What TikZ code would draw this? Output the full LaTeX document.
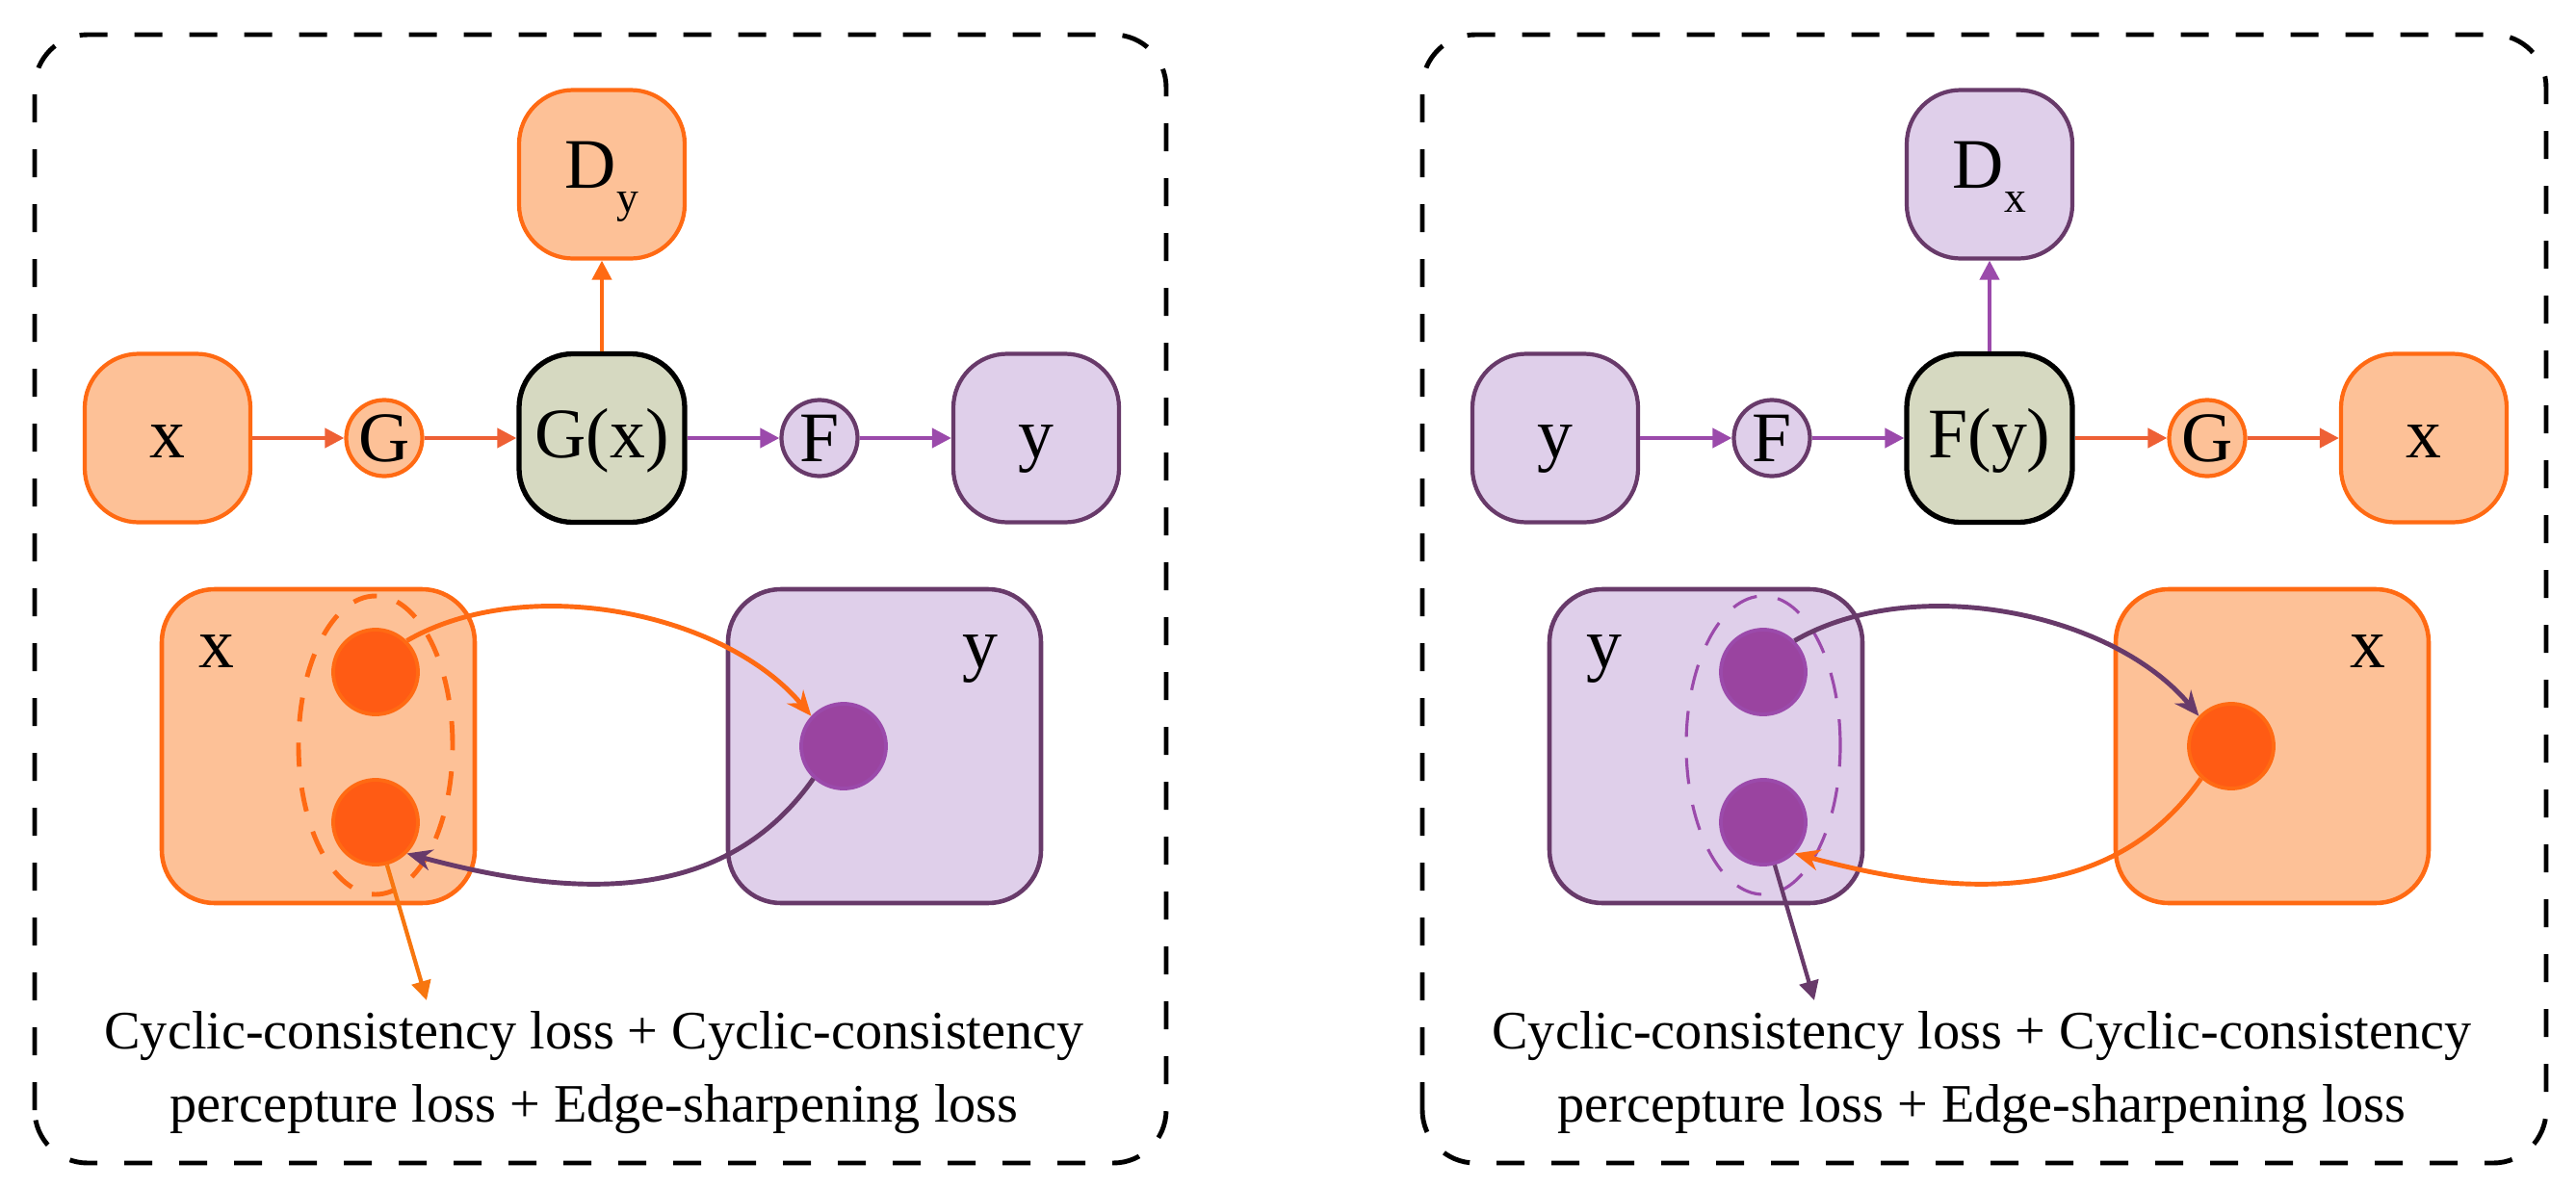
\documentclass[tikz,border=0pt]{standalone}
\usepackage{fontspec}
\setmainfont{Liberation Serif}
\usetikzlibrary{arrows.meta}
\definecolor{peach}{HTML}{FDC197}
\definecolor{orng}{HTML}{FF6A13}
\definecolor{dotorng}{HTML}{FF5B14}
\definecolor{arrorng}{HTML}{EE6035}
\definecolor{lossorng}{HTML}{F7760F}
\definecolor{lilac}{HTML}{DFCFEA}
\definecolor{plum}{HTML}{683A6A}
\definecolor{dotpurp}{HTML}{9A44A0}
\definecolor{arrpurp}{HTML}{9B4AAB}
\definecolor{sage}{HTML}{D6D9C1}
\newcommand{\boxfont}{\fontsize{21}{21}\selectfont}
\newcommand{\subfont}{\fontsize{13}{13}\selectfont}
\newcommand{\lossfont}{\fontsize{16}{21.6}\selectfont}

\begin{document}
\begin{tikzpicture}[
  box/.style={draw,rounded corners=0.56cm,minimum width=1.72cm,minimum height=1.75cm,line width=1.2pt,font=\boxfont,text height=0.55cm,text depth=0.15cm},
  op/.style={draw,circle,minimum size=0.79cm,inner sep=0pt,line width=1.2pt,font=\boxfont},
  region/.style={draw,rounded corners=0.55cm,minimum width=3.25cm,minimum height=3.26cm,line width=1.3pt},
  dot/.style={draw,circle,minimum size=0.88cm,inner sep=0pt,line width=1.1pt},
  flow/.style={line width=1.15pt,-{Triangle[length=0.2cm,width=0.2cm]}},
  cyc/.style={line width=1.4pt,-{Stealth[length=0.26cm,width=0.22cm]}},
  lossarr/.style={line width=1.2pt,-{Triangle[length=0.2cm,width=0.2cm]}},
  panel/.style={line width=1.4pt,dash pattern=on 0.29cm off 0.28cm,rounded corners=0.55cm},
  lbl/.style={anchor=base,font=\boxfont},
  loss/.style={align=center,inner sep=0pt,font=\lossfont}
]
\useasboundingbox (0,0) rectangle (26.75,12.34);

% dashed frames
\draw[panel] (0.36,0.26) rectangle (12.11,11.98);
\draw[panel] (14.77,0.26) rectangle (26.44,11.98);

% left: x -> G -> G(x) -> F -> y
\node[box,fill=peach,draw=orng,text depth=0.27cm] (dy) at (6.25,10.53) {D\raisebox{-0.25cm}{\subfont y}};
\node[box,fill=peach,draw=orng] (xin) at (1.74,7.79) {x};
\node[op,fill=peach,draw=orng] (g) at (3.99,7.79) {G};
\node[box,fill=sage,draw=black,line width=1.5pt] (gx) at (6.25,7.79) {G(x)};
\node[op,fill=lilac,draw=plum] (f) at (8.51,7.79) {F};
\node[box,fill=lilac,draw=plum] (yout) at (10.76,7.79) {y};
\draw[flow,arrorng] (xin) -- (g);
\draw[flow,arrorng] (g) -- (gx);
\draw[flow,arrpurp] (gx) -- (f);
\draw[flow,arrpurp] (f) -- (yout);
\draw[flow,orng] (gx) -- (dy);

\node[region,fill=peach,draw=orng] (xset) at (3.305,4.59) {};
\node[region,fill=lilac,draw=plum] (yset) at (9.185,4.59) {};
\node[lbl] (xlbl) at (2.25,5.41) {x};
\node[lbl] (ylbl) at (10.18,5.41) {y};
\draw[orng,line width=1.4pt,dash pattern=on 0.25cm off 0.22cm] (3.90,4.60) ellipse [x radius=0.80,y radius=1.55];
\node[dot,fill=dotorng,draw=orng] (xa) at (3.90,5.36) {};
\node[dot,fill=dotorng,draw=orng] (xb) at (3.90,3.80) {};
\node[dot,fill=dotpurp,draw=arrpurp] (yc) at (8.76,4.59) {};
\draw[cyc,orng] (xa.45) to[out=30,in=130,looseness=0.85] (yc.137);
\draw[cyc,plum] (yc.227) to[out=235,in=-15] (xb.-45);
\coordinate (lossl) at (4.43,1.95);
\draw[lossarr,lossorng] (xb.-75) -- (lossl);
\node[loss] (lossltxt) at (6.17,1.20) {Cyclic-consistency loss + Cyclic-consistency\\percepture loss + Edge-sharpening loss};

% right: y -> F -> F(y) -> G -> x
\begin{scope}[xshift=14.41cm]
\node[box,fill=lilac,draw=plum,text depth=0.27cm] (dx) at (6.25,10.53) {D\raisebox{-0.25cm}{\subfont x}};
\node[box,fill=lilac,draw=plum] (yin) at (1.74,7.79) {y};
\node[op,fill=lilac,draw=plum] (f2) at (3.99,7.79) {F};
\node[box,fill=sage,draw=black,line width=1.5pt] (fy) at (6.25,7.79) {F(y)};
\node[op,fill=peach,draw=orng] (g2) at (8.51,7.79) {G};
\node[box,fill=peach,draw=orng] (xout) at (10.76,7.79) {x};
\draw[flow,arrpurp] (yin) -- (f2);
\draw[flow,arrpurp] (f2) -- (fy);
\draw[flow,arrorng] (fy) -- (g2);
\draw[flow,arrorng] (g2) -- (xout);
\draw[flow,arrpurp] (fy) -- (dx);

\node[region,fill=lilac,draw=plum] (yset2) at (3.305,4.59) {};
\node[region,fill=peach,draw=orng] (xset2) at (9.185,4.59) {};
\node[lbl] (ylbl2) at (2.25,5.41) {y};
\node[lbl] (xlbl2) at (10.18,5.41) {x};
\draw[arrpurp,line width=0.9pt,dash pattern=on 0.27cm off 0.22cm] (3.90,4.60) ellipse [x radius=0.80,y radius=1.55];
\node[dot,fill=dotpurp,draw=arrpurp] (ya) at (3.90,5.36) {};
\node[dot,fill=dotpurp,draw=arrpurp] (yb) at (3.90,3.80) {};
\node[dot,fill=dotorng,draw=orng] (xc) at (8.76,4.59) {};
\draw[cyc,plum] (ya.45) to[out=30,in=130,looseness=0.85] (xc.137);
\draw[cyc,orng] (xc.227) to[out=235,in=-15] (yb.-45);
\coordinate (lossr) at (4.43,1.95);
\draw[lossarr,plum] (yb.-75) -- (lossr);
\node[loss] (lossrtxt) at (6.17,1.20) {Cyclic-consistency loss + Cyclic-consistency\\percepture loss + Edge-sharpening loss};
\end{scope}
\end{tikzpicture}
\end{document}
